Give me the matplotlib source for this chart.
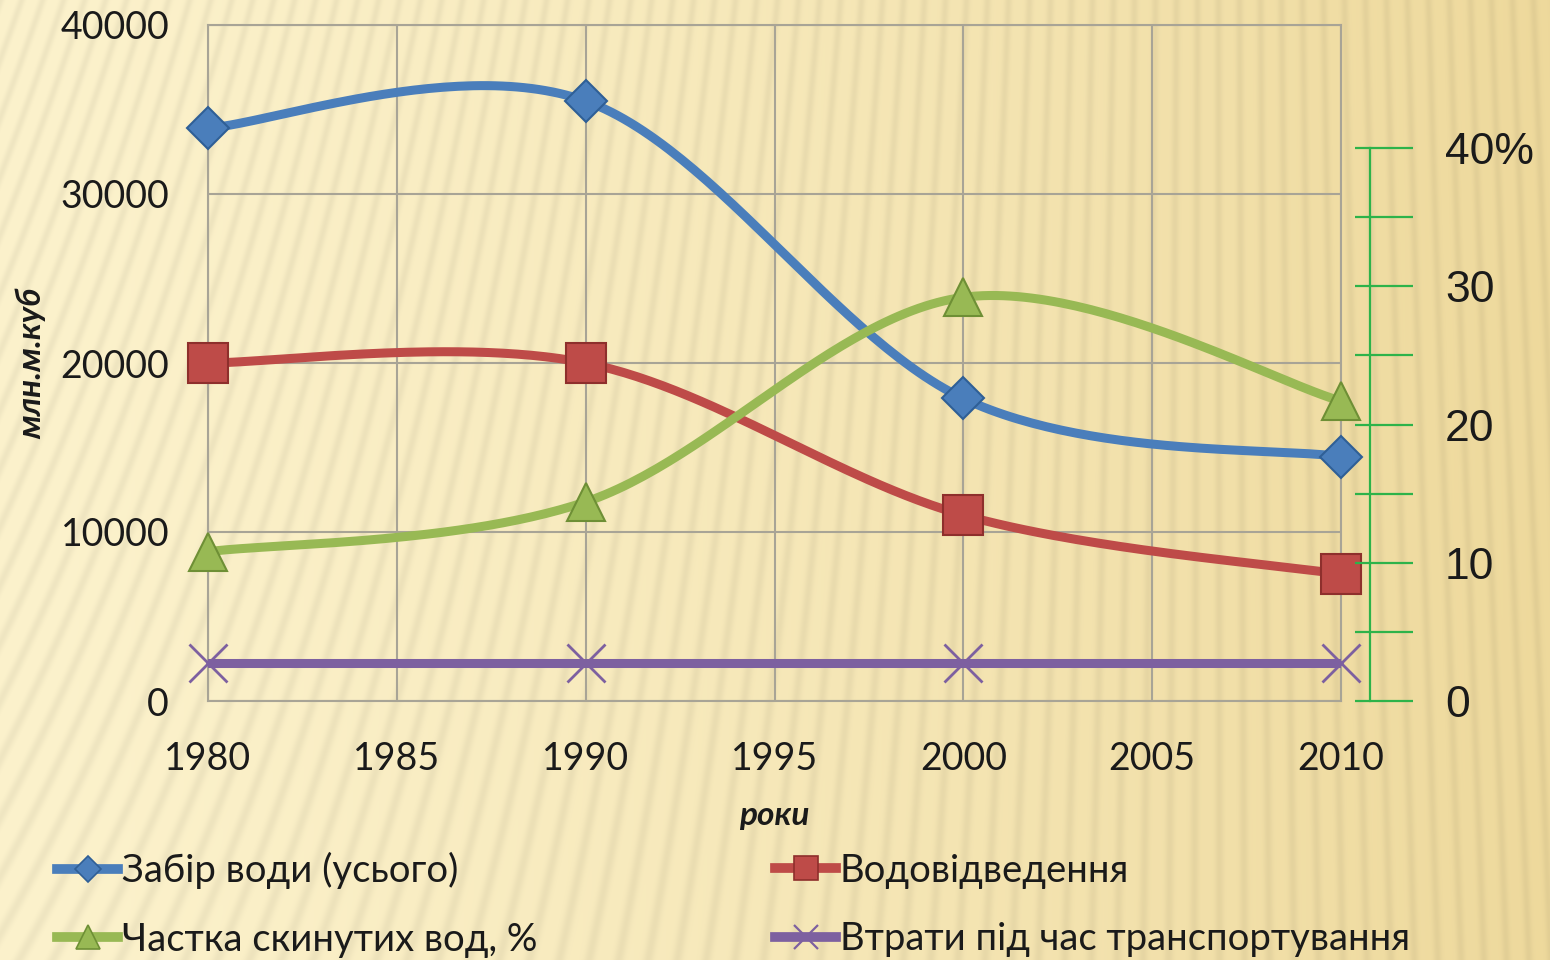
import numpy as np
import matplotlib
matplotlib.use('Agg')
import matplotlib.pyplot as plt
from matplotlib.lines import Line2D
from matplotlib.transforms import offset_copy

years = [1980, 1990, 2000, 2010]
intake = [33900, 35500, 17900, 14450]      # Забір води (усього)
discharge = [20000, 20000, 11000, 7500]    # Водовідведення
share_pct = [10.8, 14.4, 29.2, 21.7]       # Частка скинутих вод, %
losses = [2250, 2250, 2250, 2250]          # Втрати під час транспортування

names = ['Забір води (усього)', 'Водовідведення',
         'Частка скинутих вод, %', 'Втрати під час транспортування']
x_ticks = [1980, 1985, 1990, 1995, 2000, 2005, 2010]
y_ticks = [0, 10000, 20000, 30000, 40000]
pct_ticks = [0, 10, 20, 30, 40]
pct_labels = ['0', '10', '20', '30', '40%']

W, H, DPI = 1550, 960, 100
c_blue, c_red, c_green, c_purple = '#4A7EBB', '#BE4B48', '#98B954', '#7D60A0'
c_axis = '#2DB34A'
grid_c = '#A8A496'
txt = '#1A1A1A'


def smooth(x, y, n=60):
    # Excel-like smoothed line: Catmull-Rom as cubic Bezier segments
    p = np.column_stack([x, y]).astype(float)
    out = []
    t = np.linspace(0, 1, n)[:, None]
    for i in range(len(p) - 1):
        p0 = p[i - 1] if i > 0 else p[i]
        p1, p2 = p[i], p[i + 1]
        p3 = p[i + 2] if i + 2 < len(p) else p[i + 1]
        c1 = p1 + (p2 - p0) / 6
        c2 = p2 - (p3 - p1) / 6
        seg = ((1 - t) ** 3) * p1 + 3 * ((1 - t) ** 2) * t * c1 + 3 * (1 - t) * t ** 2 * c2 + t ** 3 * p2
        out.append(seg if i == 0 else seg[1:])
    s = np.vstack(out)
    return s[:, 0], s[:, 1]


fig = plt.figure(figsize=(W / DPI, H / DPI), dpi=DPI)

# background: cream-to-tan gradient with soft stripes
yy, xx = np.mgrid[0:H, 0:W].astype(float)
u = xx / W
base_l = np.array([252, 242, 204]) / 255
base_r = np.array([238, 217, 156]) / 255
mix = (u ** 1.3)[..., None]
base = base_l * (1 - mix) + base_r * mix
tilt = 0.36 * (1 - u) ** 1.6 - 0.04 * u
phase = (xx + tilt * yy) / 21.0
stripe = (0.5 + 0.5 * np.cos(2 * np.pi * phase)) ** 3
img = base * (1 - 0.05 * stripe[..., None])
bg = fig.add_axes([0, 0, 1, 1], zorder=-10)
bg.imshow(np.clip(img, 0, 1), aspect='auto', extent=[0, 1, 0, 1])
bg.axis('off')

ax = fig.add_axes([208 / W, 1 - 701 / H, (1341 - 208) / W, (701 - 25) / H])
ax.set_facecolor('none')
ax.set_xlim(1980, 2010)
ax.set_ylim(0, 40000)
ax.set_xticks(x_ticks)
ax.set_yticks(y_ticks)
ax.grid(True, color=grid_c, lw=1.5)
ax.set_axisbelow(True)
for s in ax.spines.values():
    s.set_color(grid_c)
    s.set_linewidth(1.5)
ax.tick_params(length=0, labelsize=27, labelcolor=txt)
ax.tick_params(axis='y', pad=28)
ax.tick_params(axis='x', pad=29)
for lab in ax.get_xticklabels() + ax.get_yticklabels():
    lab.set_family('Lato')
ax.set_xlabel('роки', fontsize=24, fontweight='bold', fontstyle='italic',
              family='Lato', color=txt, labelpad=17)
ax.set_ylabel('млн.м.куб', fontsize=24, fontweight='bold', fontstyle='italic',
              family='Lato', color=txt, labelpad=10)

ax2 = ax.twinx()
ax2.set_ylim(0, 48.9)
ax2.set_yticks(pct_ticks)
ax2.set_yticklabels(pct_labels)
ax2.set_yticks([5, 15, 25, 35], minor=True)
for s in ax2.spines.values():
    s.set_visible(False)
ax2.spines['right'].set_position(('outward', 14 * 72 / DPI))
ax2.tick_params(axis='y', which='both', direction='out', length=58 * 72 / DPI,
                width=1.6, color=c_axis)
ax2.tick_params(axis='y', which='major', pad=23, labelsize=32, labelcolor=txt)
for lab in ax2.get_yticklabels():
    lab.set_family('Liberation Sans')
vtrans = offset_copy(ax2.get_yaxis_transform(), fig=fig, x=29, y=0, units='dots')
ax2.plot([1, 1], [0, 40], color=c_axis, lw=1.6, transform=vtrans, clip_on=False)

series = [
    (ax, intake, c_blue, 'D', 21, '#2F5F96'),
    (ax, discharge, c_red, 's', 29, '#8E2F2C'),
    (ax2, share_pct, c_green, '^', 28, '#6E8F35'),
    (ax, losses, c_purple, 'x', 27, c_purple),
]
for a, vals, col, mk, ms, ec in series:
    sx, sy = smooth(years, vals)
    a.plot(sx, sy, color=col, lw=6.5, solid_capstyle='round', zorder=3)
    a.plot(years, vals, ls='none', marker=mk, ms=ms, mfc=col, mec=ec,
           mew=1.5 if mk != 'x' else 2.0, clip_on=False, zorder=4)

handles = []
for a, vals, col, mk, ms, ec in series:
    handles.append(Line2D([], [], color=col, lw=7, marker=mk, ms=ms * 0.62,
                          mfc=col, mec=ec, mew=1.2 if mk != 'x' else 1.6))

leg_kw = dict(frameon=False, prop={'family': 'Lato', 'size': 27.5}, labelcolor=txt,
              handlelength=1.6, handletextpad=0.1, labelspacing=0.85,
              borderpad=0, borderaxespad=0, loc='center left')
fig.legend([handles[0], handles[2]], [names[0], names[2]],
           bbox_to_anchor=(57 / W, 1 - 905 / H), **leg_kw)
fig.legend([handles[1], handles[3]], [names[1], names[3]],
           bbox_to_anchor=(775 / W, 1 - 905 / H), **leg_kw)

fig.savefig('out.png', dpi=DPI)
